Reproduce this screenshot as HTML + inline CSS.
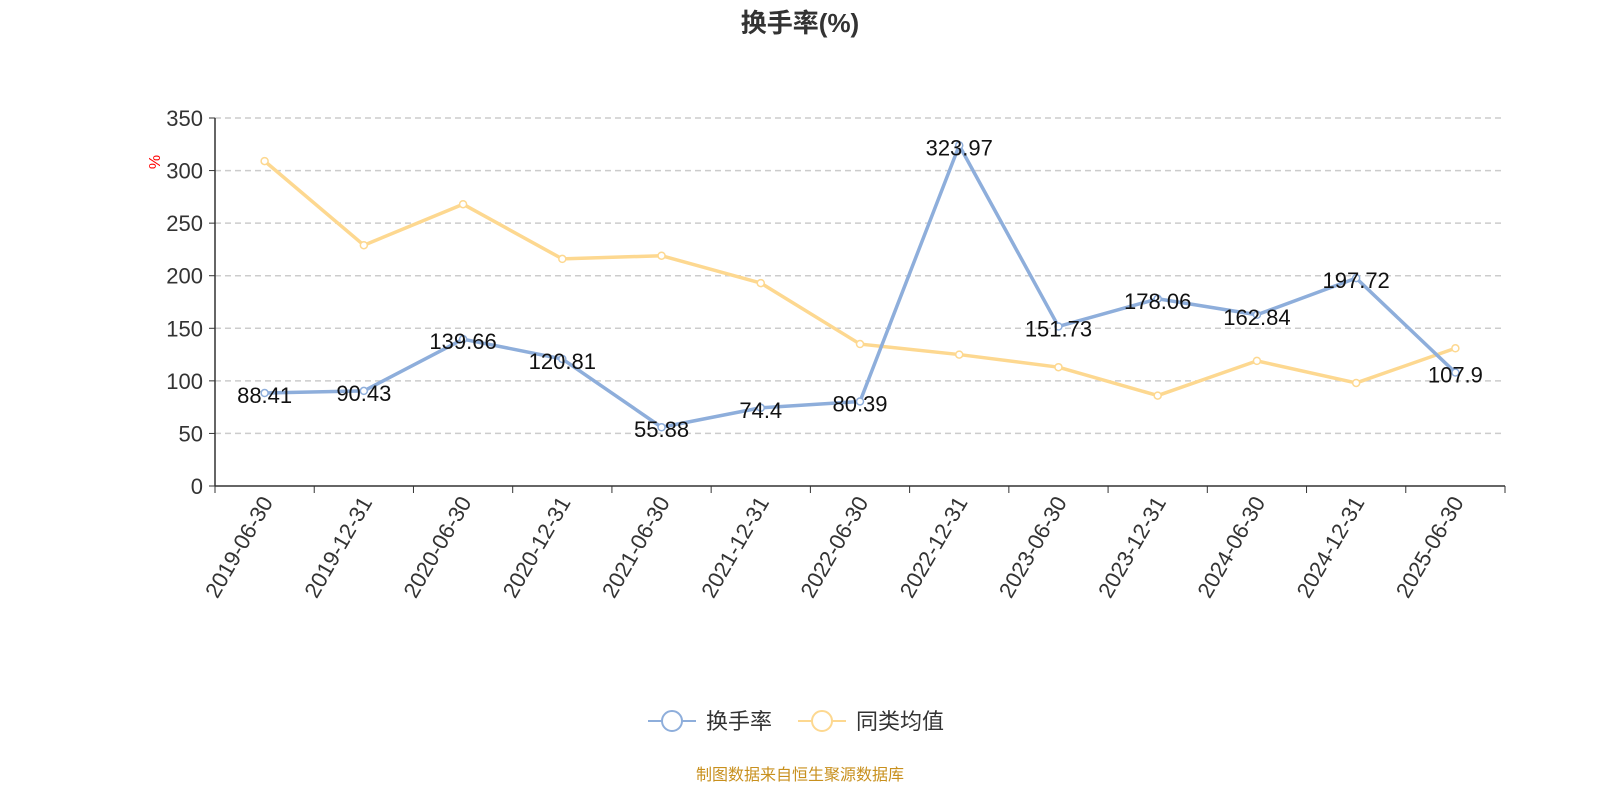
<!DOCTYPE html>
<html><head><meta charset="utf-8"><style>
body{margin:0;background:#fff;width:1600px;height:800px;overflow:hidden;font-family:"Liberation Sans","Noto Sans CJK SC",sans-serif}
svg{display:block}
</style></head><body>
<svg id="chart" width="1600" height="800">
<text x="800" y="32" text-anchor="middle" font-size="26" font-weight="bold" fill="#333" font-family="Liberation Sans, Noto Sans CJK SC, sans-serif">换手率(%)</text>
<text x="160" y="162" font-size="16" fill="red" transform="rotate(-90 160 162)" text-anchor="middle">%</text>
<g id="grid"></g><g id="axes"></g><g id="series"></g>
<g>
<g>
<line x1="648" y1="721" x2="696" y2="721" stroke="#8eaedb" stroke-width="2"/>
<circle cx="672" cy="721" r="10" fill="#fff" stroke="#8eaedb" stroke-width="2"/>
<text x="706" y="729" font-size="22" fill="#333">换手率</text></g>
<g>
<line x1="798" y1="721" x2="846" y2="721" stroke="#fdd890" stroke-width="2"/>
<circle cx="822" cy="721" r="10" fill="#fff" stroke="#fdd890" stroke-width="2"/>
<text x="856" y="729" font-size="22" fill="#333">同类均值</text></g>
</g>
<text x="800" y="780" text-anchor="middle" font-size="16" fill="#c8901e">制图数据来自恒生聚源数据库</text>
</svg>
<script>
const categories=["2019-06-30","2019-12-31","2020-06-30","2020-12-31","2021-06-30","2021-12-31","2022-06-30","2022-12-31","2023-06-30","2023-12-31","2024-06-30","2024-12-31","2025-06-30"];
const turnover=[88.41,90.43,139.66,120.81,55.88,74.4,80.39,323.97,151.73,178.06,162.84,197.72,107.9];
const peerAvg=[309,229,268,216,219,193,135,125,113,86,119,98,131];
const yTicks=[0,50,100,150,200,250,300,350];
const NS="http://www.w3.org/2000/svg";
const L=215,R=1505,T=118,B=486,yMax=350;
const bw=(R-L)/categories.length;
const x=i=>L+bw*(i+0.5);
const y=v=>B-(v/yMax)*(B-T);
function mk(tag,attrs,parent,txt){const e=document.createElementNS(NS,tag);for(const k in attrs)e.setAttribute(k,attrs[k]);if(txt!==undefined)e.textContent=txt;parent.appendChild(e);return e;}
const grid=document.getElementById('grid'),axes=document.getElementById('axes'),series=document.getElementById('series');
yTicks.forEach(t=>{
 if(t>0){const g=mk('line',{x1:L,x2:R,y1:y(t),y2:y(t),stroke:'#ccc','stroke-dasharray':'6,4','stroke-width':1.5},grid);
 
 }
 const tk=mk('line',{x1:L-6,x2:L,y1:y(t),y2:y(t),stroke:'#333'},axes);
 
 
 const lb=mk('text',{x:L-12,y:y(t)+8,'text-anchor':'end','font-size':22,fill:'#333'},axes,String(t));
 
 
});
const ya=mk('line',{x1:L,x2:L,y1:T,y2:B,stroke:'#333','stroke-width':1.5},axes);


const xa=mk('line',{x1:L,x2:R,y1:B,y2:B,stroke:'#333','stroke-width':1.5},axes);


for(let i=0;i<=categories.length;i++){const tk=mk('line',{x1:L+bw*i,x2:L+bw*i,y1:B,y2:B+7,stroke:'#333'},axes);
 
 }
categories.forEach((c,i)=>{
 const t=mk('text',{x:x(i)+9,y:B+16,'text-anchor':'end','font-size':22,fill:'#333',transform:`rotate(-60 ${x(i)+9} ${B+16})`},axes,c);
 
 
});
function drawLine(data,color,name,labels){
 const p=mk('polyline',{points:data.map((v,i)=>x(i)+','+y(v)).join(' '),fill:'none',stroke:color,'stroke-width':3.5,'stroke-linejoin':'round'},series);
 
 
 data.forEach((v,i)=>{
  const c=mk('circle',{cx:x(i),cy:y(v),r:3.5,fill:'#fff',stroke:color,'stroke-width':1.5},series);
  
  
  if(labels){const t=mk('text',{x:x(i),y:y(v)+10,'text-anchor':'middle','font-size':22,fill:'#111'},series,String(v));
   
   }
 });
}
drawLine(peerAvg,'#fdd890','peer-average',false);
drawLine(turnover,'#8eaedb','turnover',true);
</script>
</body></html>
